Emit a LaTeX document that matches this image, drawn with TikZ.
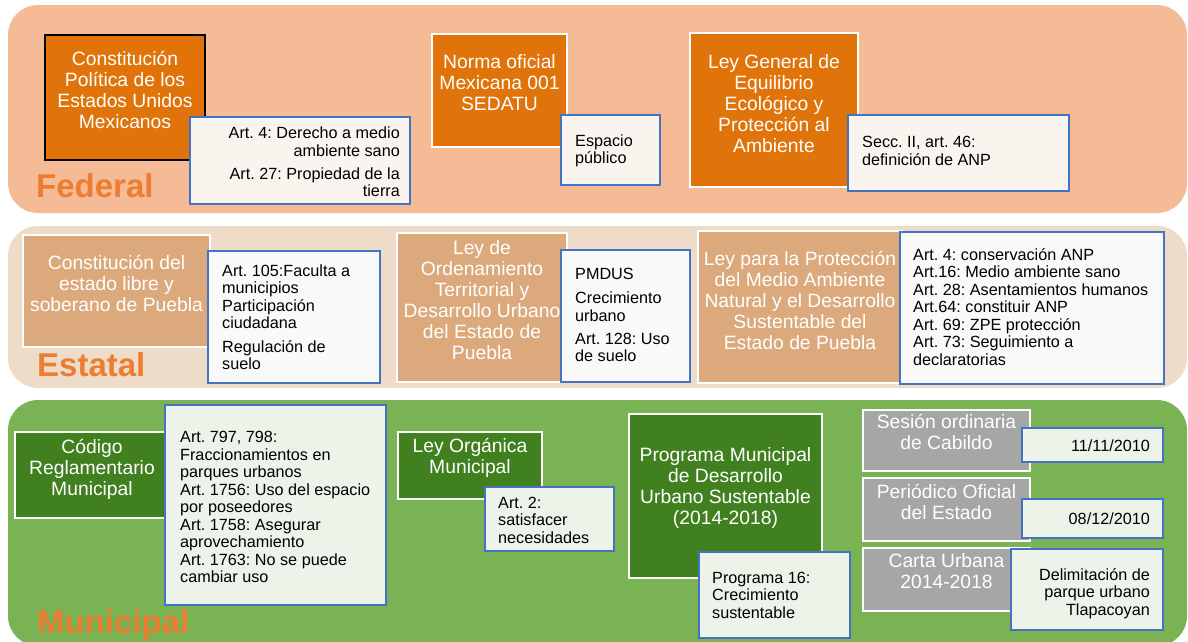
\documentclass[tikz,border=0pt]{standalone}
\usepackage{fontspec}
\setmainfont{Liberation Sans}
\frenchspacing

\definecolor{fedband}{HTML}{F4BB96}
\definecolor{estband}{HTML}{EFDCC8}
\definecolor{munband}{HTML}{7AB354}
\definecolor{fedbox}{HTML}{E0740A}
\definecolor{estbox}{HTML}{DBA97B}
\definecolor{munbox}{HTML}{40801F}
\definecolor{grisbox}{HTML}{A6A6A6}
\definecolor{notefill}{HTML}{FAF4EF}
\definecolor{notewhite}{HTML}{F9F9F9}
\definecolor{notegreen}{HTML}{EEF3EA}
\definecolor{noteline}{HTML}{4472C4}
\definecolor{levelorange}{HTML}{ED7D31}

\begin{document}
\begin{tikzpicture}[x=1pt, y=-1pt,
    band/.style={rounded corners=30pt},
    law/.style={draw=white, line width=1.6pt},
    note/.style={draw=noteline, line width=1.3pt},
    bigtxt/.style={text=white, align=center, inner sep=0pt, font=\fontsize{19.3}{21}\selectfont},
    smalltxt/.style={text=black, inner sep=0pt, font=\fontsize{16.2}{17.5}\selectfont},
    level/.style={text=levelorange, inner sep=0pt, anchor=base west, font=\fontsize{33}{36}\selectfont\bfseries}]
    \useasboundingbox (0,0) rectangle (1188,641);

    % bands
    \fill[band, fedband] (8,5) rectangle (1187,213);
    \fill[band, estband] (8,226) rectangle (1187,388);
    \fill[band, munband] (8,400) rectangle (1187,646);

    \node[level] (federal) at (36,197) {Federal};
    \node[level] (estatal) at (37,376) {Estatal};
    \node[level] (municipal) at (37,633) {Municipal};

    % federal
    \draw[fedbox, fill=fedbox] (45,35) rectangle (205,160);
    \draw[black, line width=1.3pt] (45,35) rectangle (205,160);
    \node[bigtxt] (cpeum) at (125,90) {Constitución\\Política de los\\Estados Unidos\\Mexicanos};
    \draw[note, fill=notefill] (190,117) rectangle (410,204);
    \node[smalltxt, align=right, anchor=east] (cpeum-art) at (400,162)
        {Art. 4: Derecho a medio\\ambiente sano\\[5.5pt]Art. 27: Propiedad de la\\tierra};

    \draw[law, fill=fedbox] (432,34) rectangle (567,147);
    \node[bigtxt] (nom) at (499.5,83) {Norma oficial\\Mexicana 001\\SEDATU};
    \draw[note, fill=notefill] (561,115) rectangle (660,185);
    \node[smalltxt, align=left, anchor=west] (nom-art) at (575,151) {Espacio\\público};

    \draw[law, fill=fedbox] (690,33) rectangle (858,187);
    \node[bigtxt] (lgeepa) at (774,103.5) {Ley General de\\Equilibrio\\Ecológico y\\Protección al\\Ambiente};
    \draw[note, fill=notefill] (848,115) rectangle (1069,191);
    \node[smalltxt, align=left, anchor=west] (lgeepa-art) at (862,151) {Secc. II, art. 46:\\definición de ANP};

    % estatal
    \draw[law, fill=estbox] (23,235) rectangle (210,347);
    \node[bigtxt] (cepue) at (116.5,283.5) {Constitución del\\estado libre y\\soberano de Puebla};
    \draw[note, fill=notewhite] (208,251) rectangle (380,383);
    \node[smalltxt, align=left, anchor=west] (cepue-art) at (222,317)
        {Art. 105:Faculta a\\municipios\\Participación\\ciudadana\\[6pt]Regulación de\\suelo};

    \draw[law, fill=estbox] (397,233) rectangle (567,382);
    \node[bigtxt] (lotdu) at (482,300) {Ley de\\Ordenamiento\\Territorial y\\Desarrollo Urbano\\del Estado de\\Puebla};
    \draw[note, fill=notewhite] (561,250) rectangle (690,382);
    \node[smalltxt, align=left, anchor=west] (lotdu-art) at (575,315)
        {PMDUS\\[7pt]Crecimiento\\urbano\\[5.5pt]Art. 128: Uso\\de suelo};

    \draw[law, fill=estbox] (698,231) rectangle (902,383);
    \node[bigtxt] (lpma) at (800,300.5) {Ley para la Protección\\del Medio Ambiente\\Natural y el Desarrollo\\Sustentable del\\Estado de Puebla};
    \draw[note, fill=notewhite] (900,232) rectangle (1164,384);
    \node[smalltxt, align=left, anchor=west] (lpma-art) at (913,307)
        {Art. 4: conservación ANP\\Art.16: Medio ambiente sano\\Art. 28: Asentamientos humanos\\Art.64: constituir ANP\\Art. 69: ZPE protección\\Art. 73: Seguimiento a\\declaratorias};

    % municipal
    \draw[law, fill=munbox] (15,432) rectangle (168,518);
    \node[bigtxt] (crm) at (92,469) {Código\\Reglamentario\\Municipal};
    \draw[note, fill=notegreen] (165,405) rectangle (386,605);
    \node[smalltxt, align=left, anchor=west] (crm-art) at (180,507)
        {Art. 797, 798:\\Fraccionamientos en\\parques urbanos\\Art. 1756: Uso del espacio\\por poseedores\\Art. 1758: Asegurar\\aprovechamiento\\Art. 1763: No se puede\\cambiar uso};

    \draw[law, fill=munbox] (398,432) rectangle (542,499);
    \node[bigtxt] (lom) at (470,458) {Ley Orgánica\\Municipal};
    \draw[note, fill=notegreen] (485,487) rectangle (614,551);
    \node[smalltxt, align=left, anchor=west] (lom-art) at (498,520) {Art. 2:\\satisfacer\\necesidades};

    \draw[law, fill=munbox] (629,414) rectangle (822,578);
    \node[bigtxt] (pmdus) at (725.5,488) {Programa Municipal\\de Desarrollo\\Urbano Sustentable\\(2014-2018)};
    \draw[note, fill=notegreen] (699,552) rectangle (850,638);
    \node[smalltxt, align=left, anchor=west] (pmdus-art) at (712,595) {Programa 16:\\Crecimiento\\sustentable};

    % publicaciones
    \draw[law, fill=grisbox] (863,410) rectangle (1030,471);
    \node[bigtxt] (cabildo) at (946.5,432) {Sesión ordinaria\\de Cabildo};
    \draw[note, fill=notegreen] (1022,428) rectangle (1163,462);
    \node[smalltxt, anchor=east] (cabildo-fecha) at (1150,446) {11/11/2010};

    \draw[law, fill=grisbox] (863,478) rectangle (1030,541);
    \node[bigtxt] (periodico) at (946.5,501.5) {Periódico Oficial\\del Estado};
    \draw[note, fill=notegreen] (1022,499) rectangle (1163,538);
    \node[smalltxt, anchor=east] (periodico-fecha) at (1150,519) {08/12/2010};

    \draw[law, fill=grisbox] (863,548) rectangle (1030,611);
    \node[bigtxt] (carta) at (946.5,571.5) {Carta Urbana\\2014-2018};
    \draw[note, fill=notegreen] (1011,549) rectangle (1163,630);
    \node[smalltxt, align=right, anchor=east] (carta-art) at (1150,593.5) {Delimitación de\\parque urbano\\Tlapacoyan};
\end{tikzpicture}
\end{document}
